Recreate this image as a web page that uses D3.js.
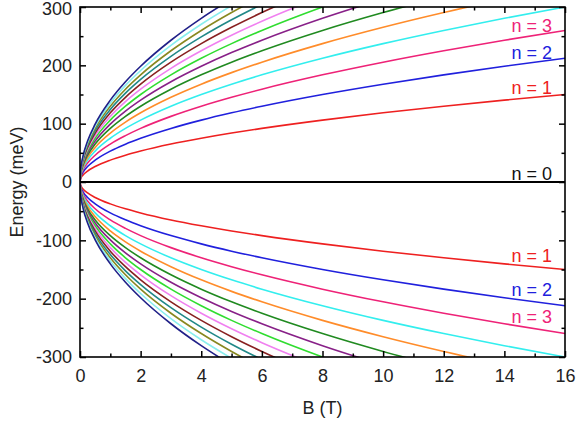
<!DOCTYPE html>
<html>
  <head>
    <meta charset="utf-8">
    <title>Landau levels</title>
    <style>
      body { margin: 0; background: #fff; }
      text { font-family: "Liberation Sans", Arial, sans-serif; }
      .curve { fill: none; stroke-width: 1.6; }
    </style>
  </head>

  <body>
    <div id="chart"></div>

    <script src="https://cdn.jsdelivr.net/npm/d3@7"></script>

<script>

  // magnetic field samples (T)
  var bField = [0, 0.02, 0.1, 0.25, 0.5, 1, 1.5, 2, 3, 4, 5, 6, 8, 10, 12, 14, 16];

  // |E| of each level (meV), read at the bField samples; past 300 the level leaves the plot
  var level1  = [0, 5.3, 11.9, 18.8, 26.5, 37.5, 45.9, 53.0, 65.0, 75.0, 83.9, 91.9, 106.1, 118.6, 129.9, 140.3, 150.0];
  var level2  = [0, 7.5, 16.8, 26.5, 37.5, 53.0, 64.9, 75.0, 91.9, 106.1, 118.6, 129.9, 150.0, 167.7, 183.7, 198.4, 212.1];
  var level3  = [0, 9.2, 20.5, 32.5, 45.9, 65.0, 79.5, 91.9, 112.5, 129.9, 145.2, 159.1, 183.7, 205.4, 225.0, 243.0, 259.8];
  var level4  = [0, 10.6, 23.7, 37.5, 53.0, 75.0, 91.9, 106.1, 129.9, 150.0, 167.7, 183.7, 212.1, 237.2, 259.8, 280.6, 300.0];
  var level5  = [0, 11.9, 26.5, 41.9, 59.3, 83.9, 102.7, 118.6, 145.2, 167.7, 187.5, 205.4, 237.2, 265.2, 290.5, 313.7];
  var level6  = [0, 13.0, 29.0, 45.9, 65.0, 91.9, 112.5, 129.9, 159.1, 183.7, 205.4, 225.0, 259.8, 290.5, 318.2];
  var level7  = [0, 14.0, 31.4, 49.6, 70.2, 99.2, 121.5, 140.3, 171.9, 198.4, 221.9, 243.0, 280.6, 313.8];
  var level8  = [0, 15.0, 33.5, 53.0, 75.0, 106.1, 129.9, 150.0, 183.7, 212.1, 237.2, 259.8, 300.0, 335.4];
  var level9  = [0, 15.9, 35.6, 56.3, 79.5, 112.5, 137.8, 159.1, 194.9, 225.0, 251.6, 275.6, 318.2];
  var level10 = [0, 16.8, 37.5, 59.3, 83.9, 118.6, 145.2, 167.7, 205.4, 237.2, 265.2, 290.5, 335.4];
  var level11 = [0, 17.6, 39.3, 62.2, 87.9, 124.4, 152.3, 175.9, 215.4, 248.7, 278.1, 304.6];
  var level12 = [0, 18.4, 41.1, 65.0, 91.9, 129.9, 159.1, 183.7, 225.0, 259.8, 290.5, 318.2];
  var level13 = [0, 19.1, 42.8, 67.6, 95.6, 135.2, 165.6, 191.2, 234.2, 270.4, 302.3];
  var level14 = [0, 19.8, 44.4, 70.2, 99.2, 140.3, 171.8, 198.4, 243.0, 280.6, 313.7];

  var levels = [level1, level2, level3, level4, level5, level6, level7,
                level8, level9, level10, level11, level12, level13, level14];

  var colors = ["#ee2020", "#2020dd", "#ee2277", "#33eeee", "#ff8c2a", "#208a20", "#882088",
                "#30dd30", "#f080f0", "#882020", "#208888", "#888820", "#88eeee", "#202088"];

  var xTicks = [0, 2, 4, 6, 8, 10, 12, 14, 16];
  var yTicks = [-300, -200, -100, 0, 100, 200, 300];

  // level labels on the right: text, energy at the baseline, level index (-1 = n = 0)
  var labelText   = ["n = 3", "n = 2", "n = 1", "n = 0", "n = 1", "n = 2", "n = 3"];
  var labelEnergy = [257, 211, 151, 3, -137, -195, -242];
  var labelLevel  = [2, 1, 0, -1, 0, 1, 2];

  var margin = {top: 7, right: 14, bottom: 64, left: 80},
    width = 579 - margin.left - margin.right,
    height = 421 - margin.top - margin.bottom;

  var svg = d3.select('#chart')
    .append('svg')
    .attr("width", 579)
    .attr("height", 421);

  var g = svg.append("g")
    .attr("transform", "translate(" + margin.left + "," + margin.top + ")");

  var x = d3.scaleLinear()
    .range([0, width])
    .domain([0, 16]);

  var y = d3.scaleLinear()
    .range([height, 0])
    .domain([-300, 300]);

  g.append("clipPath")
    .attr("id", "clip")
    .append("rect")
    .attr("width", width)
    .attr("height", height);

  var line = d3.line()
    .x(function(d){ return x(d[0]); })
    .y(function(d){ return y(d[1]); })
    .curve(d3.curveMonotoneX);

  var plot = g.append("g").attr("clip-path", "url(#clip)");

  levels.forEach(function(vals, i) {
    var up = vals.map(function(v, k){ return [bField[k], v]; });
    var down = vals.map(function(v, k){ return [bField[k], -v]; });
    [up, down].forEach(function(pts) {
      plot.append("path")
        .attr("class", "curve")
        .attr("d", line(pts))
        .attr("stroke", colors[i]);
    });
  });

  // n = 0 level
  plot.append("path")
    .attr("d", line([[0, 0], [16, 0]]))
    .attr("stroke", "#000")
    .attr("stroke-width", 2.2)
    .attr("fill", "none");

  // axes with inward ticks on all four sides
  function styleAxis(sel) {
    sel.select(".domain").remove();
    sel.selectAll("line").attr("stroke", "#000").attr("stroke-width", 1.5);
    sel.selectAll("text").attr("font-size", "18px").attr("fill", "#222");
  }

  var fmt = function(d){ return String(d); };
  var minorX = d3.range(1, 16, 2);
  var minorY = d3.range(-250, 300, 100);

  g.append("g")
    .attr("transform", "translate(0," + height + ")")
    .call(d3.axisBottom(x).tickValues(xTicks).tickSize(-6).tickPadding(12).tickFormat(fmt))
    .call(styleAxis);
  g.append("g")
    .attr("transform", "translate(0," + height + ")")
    .call(d3.axisBottom(x).tickValues(minorX).tickSize(-3.5).tickFormat(""))
    .call(styleAxis);
  g.append("g")
    .call(d3.axisTop(x).tickValues(xTicks).tickSize(-6).tickFormat(""))
    .call(styleAxis);
  g.append("g")
    .call(d3.axisTop(x).tickValues(minorX).tickSize(-3.5).tickFormat(""))
    .call(styleAxis);

  var yAxis = g.append("g")
    .call(d3.axisLeft(y).tickValues(yTicks).tickSize(-6).tickPadding(8).tickFormat(fmt))
    .call(styleAxis);
  // keep the top label inside the page
  yAxis.selectAll("text").filter(function(d){ return d === 300; }).attr("dy", "0.4em");

  g.append("g")
    .call(d3.axisLeft(y).tickValues(minorY).tickSize(-3.5).tickFormat(""))
    .call(styleAxis);
  g.append("g")
    .attr("transform", "translate(" + width + ",0)")
    .call(d3.axisRight(y).tickValues(yTicks).tickSize(-6).tickFormat(""))
    .call(styleAxis);
  g.append("g")
    .attr("transform", "translate(" + width + ",0)")
    .call(d3.axisRight(y).tickValues(minorY).tickSize(-3.5).tickFormat(""))
    .call(styleAxis);

  g.append("rect")
    .attr("width", width)
    .attr("height", height)
    .attr("fill", "none")
    .attr("stroke", "#000")
    .attr("stroke-width", 1.6);

  // level labels
  g.selectAll(".lab")
    .data(labelText)
    .enter()
    .append("text")
    .attr("class", "lab")
    .attr("x", x(15.57))
    .attr("y", function(d, i){ return y(labelEnergy[i]); })
    .attr("text-anchor", "end")
    .attr("font-size", "18px")
    .attr("fill", function(d, i){ return labelLevel[i] < 0 ? "#111" : colors[labelLevel[i]]; })
    .text(function(d){ return d; });

  svg.append("text")
    .attr("x", margin.left + width / 2)
    .attr("y", 414)
    .attr("text-anchor", "middle")
    .attr("font-size", "18px")
    .attr("fill", "#222")
    .text("B (T)");

  svg.append("text")
    .attr("transform", "translate(23," + (margin.top + height / 2) + ") rotate(-90)")
    .attr("text-anchor", "middle")
    .attr("font-size", "18px")
    .attr("fill", "#222")
    .text("Energy (meV)");

</script>
  </body>
</html>
